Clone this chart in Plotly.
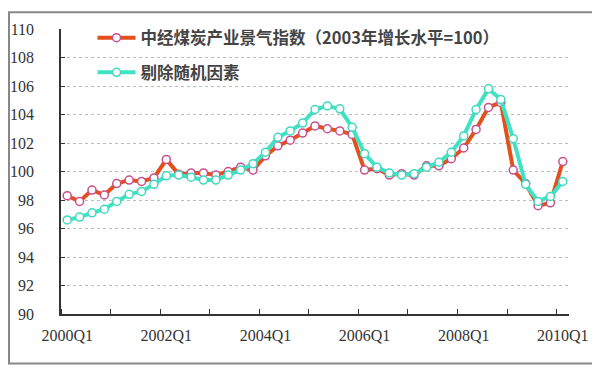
import plotly.graph_objects as go

quarters = [f"{y}Q{q}" for y in range(2000, 2011) for q in range(1, 5)][:41]
label_quarters = ["2000Q1", "2002Q1", "2004Q1", "2006Q1", "2008Q1", "2010Q1"]

index_values = [98.3, 97.9, 98.7, 98.35, 99.15, 99.4, 99.3, 99.55, 100.85, 99.8,
                99.9, 99.9, 99.75, 100.0, 100.3, 100.1, 101.1, 101.8, 102.2, 102.7,
                103.2, 103.0, 102.85, 102.6, 100.1, 100.2, 99.75, 99.85, 99.75, 100.4,
                100.4, 100.9, 101.65, 102.95, 104.5, 104.85, 100.1, 99.15, 97.6, 97.8,
                100.7]
adjusted_values = [96.6, 96.8, 97.1, 97.35, 97.9, 98.4, 98.6, 99.1, 99.7, 99.75,
                   99.6, 99.4, 99.4, 99.75, 100.1, 100.55, 101.35, 102.4, 102.85, 103.4,
                   104.35, 104.6, 104.4, 103.1, 101.25, 100.3, 99.9, 99.75, 99.85, 100.3,
                   100.65, 101.35, 102.5, 104.35, 105.8, 105.05, 102.3, 99.1, 97.9, 98.25,
                   99.3]

name1 = "中经煤炭产业景气指数（2003年增长水平=100）"
name2 = "剔除随机因素"

xs = list(range(len(quarters)))
tickvals = [quarters.index(q) for q in label_quarters]

fig = go.Figure()
fig.add_trace(go.Scatter(
    x=xs, y=index_values, name=name1, mode="lines+markers",
    line=dict(color="#E4501C", width=4),
    marker=dict(symbol="circle", size=8, color="white",
                line=dict(color="#C8508C", width=1.5)),
    legend="legend",
))
fig.add_trace(go.Scatter(
    x=xs, y=adjusted_values, name=name2, mode="lines+markers",
    line=dict(color="#3FE3C3", width=4),
    marker=dict(symbol="circle", size=8, color="white",
                line=dict(color="#3FD8C0", width=1.5)),
    legend="legend2",
))

axis_font = dict(family="Liberation Serif", size=16, color="#333333")
cjk_font = dict(family="Noto Sans CJK SC", size=16.5, color="#444444", weight="bold")

# page has an 8px body margin; figure is sized to fit inside the 600x368 window
W, H = 592, 360
L, T = 53, 18
PW, PH = 508, 288

fig.update_layout(
    width=W, height=H,
    margin=dict(l=L, r=W - L - PW, t=T, b=H - T - PH),
    paper_bgcolor="white", plot_bgcolor="white",
    showlegend=True,
    legend=dict(x=0.062, y=(PH - (35 - 26)) / PH, xanchor="left", yanchor="middle",
                bgcolor="rgba(0,0,0,0)", font=cjk_font, itemwidth=38),
    legend2=dict(x=0.062, y=(PH - (70 - 26)) / PH, xanchor="left", yanchor="middle",
                 bgcolor="rgba(0,0,0,0)", font=cjk_font, itemwidth=38),
    xaxis=dict(
        range=[-0.5, len(quarters) - 0.5],
        tickmode="array", tickvals=tickvals, ticktext=label_quarters,
        ticks="", showgrid=False, zeroline=False, automargin=False,
        showline=True, linecolor="#333333", linewidth=1.5,
        tickfont=axis_font, ticklabelstandoff=6,
        minor=dict(tickmode="linear", tick0=-0.5, dtick=4, ticks="inside",
                   ticklen=5, tickcolor="#333333", showgrid=False),
    ),
    yaxis=dict(
        range=[90, 110], tickmode="linear", tick0=90, dtick=2,
        ticks="inside", ticklen=4, tickcolor="#333333",
        showgrid=True, gridcolor="#BBBBBB", griddash="dot", gridwidth=1,
        zeroline=False, showline=True, linecolor="#333333", linewidth=1.5,
        tickfont=axis_font, ticklabelstandoff=22, automargin=False,
    ),
)

fig.add_shape(type="rect", xref="paper", yref="paper",
              x0=(1 - L) / PW, x1=(588 - L) / PW,
              y0=(T + PH - 356) / PH, y1=(T + PH - 1) / PH,
              line=dict(color="#888888", width=2), fillcolor="rgba(0,0,0,0)",
              layer="above")

fig.write_html("out.html")
